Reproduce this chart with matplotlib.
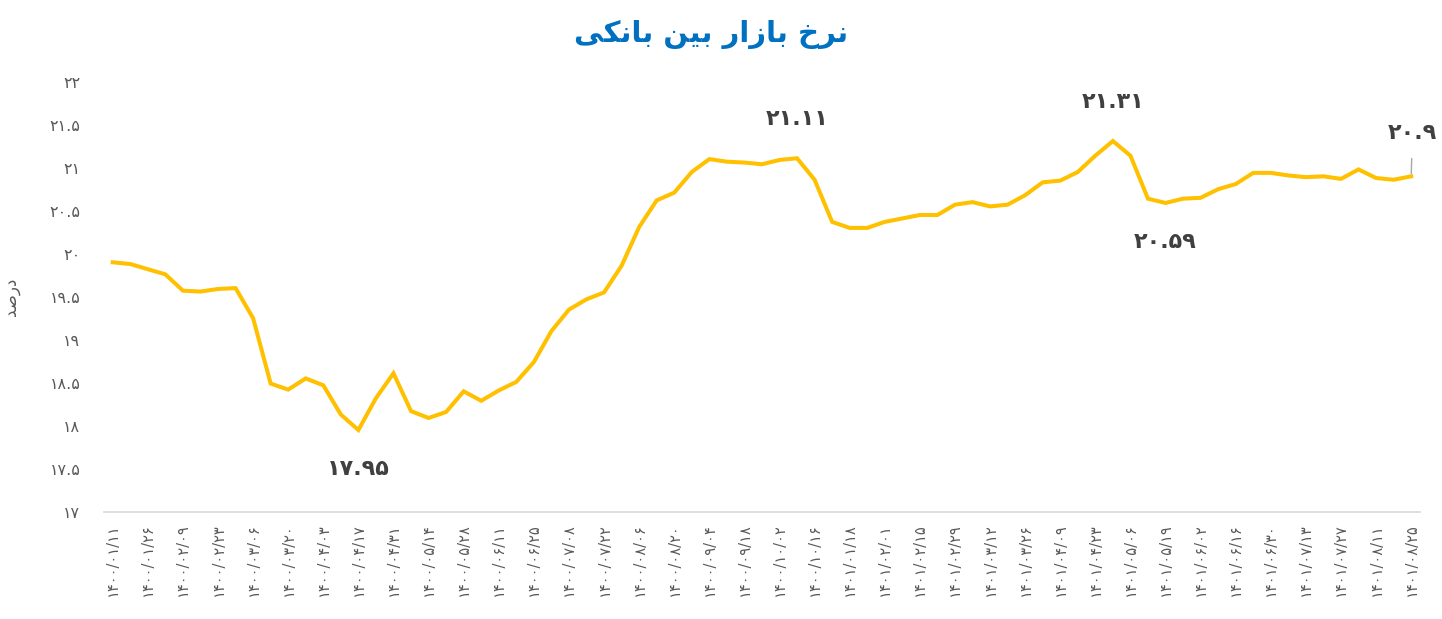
import matplotlib
matplotlib.use("Agg")
import matplotlib.pyplot as plt
import numpy as np

# Persian digits for all labels
FA_DIGITS = str.maketrans("0123456789", "۰۱۲۳۴۵۶۷۸۹")

# tick labels (every second weekly observation)
tick_dates = [
    "1400/01/11", "1400/01/26", "1400/02/09", "1400/02/23", "1400/03/06",
    "1400/03/20", "1400/04/03", "1400/04/17", "1400/04/31", "1400/05/14",
    "1400/05/28", "1400/06/11", "1400/06/25", "1400/07/08", "1400/07/22",
    "1400/08/06", "1400/08/20", "1400/09/04", "1400/09/18", "1400/10/02",
    "1400/10/16", "1401/01/18", "1401/02/01", "1401/02/15", "1401/02/29",
    "1401/03/12", "1401/03/26", "1401/04/09", "1401/04/23", "1401/05/06",
    "1401/05/19", "1401/06/02", "1401/06/16", "1401/06/30", "1401/07/13",
    "1401/07/27", "1401/08/11", "1401/08/25",
]

# interbank rate, weekly (%)
rates = [
    19.90, 19.88, 19.82, 19.76, 19.57, 19.56, 19.59, 19.60, 19.25, 18.49,
    18.42, 18.55, 18.47, 18.13, 17.95, 18.32, 18.61, 18.17, 18.09, 18.16,
    18.40, 18.29, 18.41, 18.51, 18.74, 19.10, 19.35, 19.47, 19.55, 19.86,
    20.31, 20.62, 20.71, 20.95, 21.10, 21.07, 21.06, 21.04, 21.09, 21.11,
    20.86, 20.37, 20.30, 20.30, 20.37, 20.41, 20.45, 20.45, 20.57, 20.60,
    20.55, 20.57, 20.68, 20.83, 20.85, 20.95, 21.14, 21.31, 21.14, 20.64,
    20.59, 20.64, 20.65, 20.75, 20.81, 20.94, 20.94, 20.91, 20.89, 20.90,
    20.87, 20.98, 20.88, 20.86, 20.90,
]

# labelled points: (index, placement)
labelled = [(14, "below"), (39, "above"), (57, "above"), (60, "below"), (74, "end")]

# pre-shaped Persian text (presentation forms, visual order)
TITLE = "\ufef0\ufedc\ufee7\ufe8e\ufe91 \ufee6\ufef4\ufe91 \ufead\ufe8d\ufeaf\ufe8e\ufe91 \ufea5\ufeae\ufee7"
YLABEL = "\ufeaa\ufebb\ufead\ufea9"


def fa_num(v):
    s = f"{v:.2f}".rstrip("0").rstrip(".")
    return s.translate(FA_DIGITS)


plt.rcParams["font.family"] = ["DejaVu Sans"]

fig = plt.figure(figsize=(14.42, 6.19), dpi=100)
ax = fig.add_axes([0.0721, 0.1733, 0.9126, 0.6947])

x = np.arange(len(rates))
ax.plot(x, rates, color="#FFC000", linewidth=2.9, solid_joinstyle="miter")

ax.set_xlim(-0.5, len(rates) - 0.5)
ax.set_ylim(17, 22)

yt = np.arange(17, 22.01, 0.5)
ax.set_yticks(yt)
ax.set_yticklabels([fa_num(v) for v in yt], fontsize=11.5, color="#595959")
ax.set_xticks(x[::2])
ax.set_xticklabels([d.translate(FA_DIGITS) for d in tick_dates],
                   rotation=90, fontsize=10.5, color="#595959")
ax.tick_params(axis="y", length=0, pad=17)
ax.tick_params(axis="x", length=0, pad=8)

for side in ("top", "right", "left"):
    ax.spines[side].set_visible(False)
ax.spines["bottom"].set_color("#D9D9D9")
ax.spines["bottom"].set_linewidth(1.2)

ax.set_ylabel(YLABEL, fontsize=12, color="#595959")
ax.yaxis.set_label_coords(-0.064, 0.5)

fig.text(0.493, 0.945, TITLE, ha="center", va="center",
         fontsize=21, fontweight="bold", color="#0070C0")

for idx, where in labelled:
    val = rates[idx]
    arrow = None
    if where == "above":
        off = (0, 28)
    elif where == "below":
        off = (0, -28)
    else:
        off = (1, 31)
        arrow = dict(arrowstyle="-", color="#A6A6A6", lw=1, shrinkA=9, shrinkB=2)
    ax.annotate(fa_num(val), (idx, val), xytext=off, textcoords="offset points",
                ha="center", va="center", fontsize=16, fontweight="bold",
                color="#404040", arrowprops=arrow, annotation_clip=False)

fig.savefig("out.png", dpi=100, facecolor="white")
